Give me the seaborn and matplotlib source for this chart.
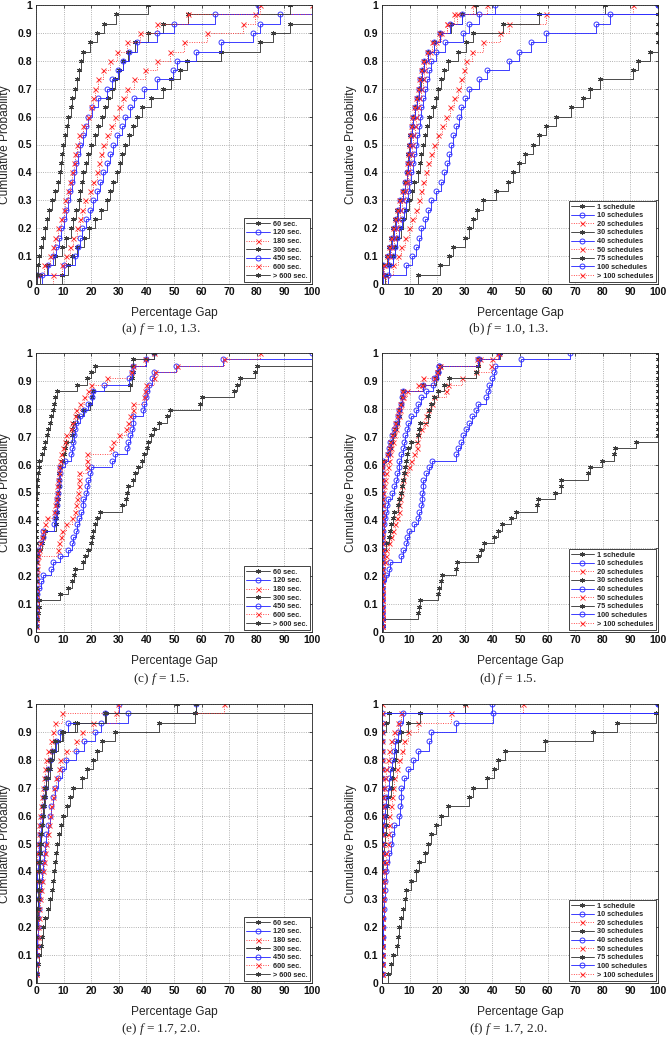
import numpy as np
import pandas as pd
import matplotlib
matplotlib.use("Agg")
import matplotlib.pyplot as plt
import seaborn as sns

# ---------------- data (percentage gaps) ----------------
LABELS_TIME = ["60 sec.", "120 sec.", "180 sec.", "300 sec.", "450 sec.", "600 sec.", "> 600 sec."]
LABELS_SCHED = ["1 schedule", "10 schedules", "20 schedules", "30 schedules", "40 schedules",
                "50 schedules", "75 schedules", "100 schedules", "> 100 schedules"]
CAPTIONS = ["(a) $f$ = 1.0, 1.3.", "(b) $f$ = 1.0, 1.3.", "(c) $f$ = 1.5.",
            "(d) $f$ = 1.5.", "(e) $f$ = 1.7, 2.0.", "(f) $f$ = 1.7, 2.0."]
X_TICKS = [0, 10, 20, 30, 40, 50, 60, 70, 80, 90, 100]
Y_TICKS = [0, 0.1, 0.2, 0.3, 0.4, 0.5, 0.6, 0.7, 0.8, 0.9, 1]
Y_TICKLABELS = ["0", "0.1", "0.2", "0.3", "0.4", "0.5", "0.6", "0.7", "0.8", "0.9", "1"]

# panel (a)
A_60 = [9.5, 11.5, 13, 15, 17.3, 19.3, 21.5, 23.5, 25.6, 26.8, 28, 29.3, 30.3, 31.3, 32.3, 33.7, 35.1,
        36.5, 38.5, 41.5, 46, 49, 52, 54.7, 67, 81, 86, 92, 110, 130]
A_120 = [0.5, 10, 14, 15.3, 16, 16.6, 18, 19.5, 20.8, 22, 23.2, 24.4, 25.6, 26.8, 28, 29.5, 31, 32.3,
         33.9, 35.5, 39, 44, 49.5, 51, 58, 67, 78.8, 81, 88.5, 105]
A_180 = [6, 9.5, 11, 12.3, 13.5, 14.7, 15.8, 16.8, 17.8, 19.5, 20.8, 22, 22.8, 23.6, 24.4, 25.8, 27.2,
         28.7, 30, 31.5, 32.9, 35.5, 39.5, 43.8, 48.5, 53.5, 62, 75, 79.5, 100]
A_300 = [1.5, 4, 7, 9.5, 11, 12.5, 13.5, 14.5, 15.4, 16, 16.6, 17.2, 18, 19, 20, 21.2, 22.5, 23.8, 25,
         26.2, 27.4, 28.8, 30.2, 31.7, 33.5, 36, 40.7, 46, 55, 92]
A_450 = [2, 4.5, 6.3, 7.3, 8.2, 9, 10, 10.8, 11.7, 12.4, 13.1, 13.8, 14.5, 15.3, 16, 17, 18, 19, 20.3,
         22.5, 25.6, 27.7, 29.7, 31.7, 33.7, 36.5, 43.8, 50, 65, 80.6]
A_600 = [0.5, 3, 5, 6, 7, 8, 9, 10, 10.5, 11.5, 12.3, 13, 13.6, 14.2, 14.7, 15.5, 17, 19, 19.8, 20.6,
         21.4, 22.6, 24.2, 26.8, 29.5, 33, 37.7, 44, 55, 81]
A_GT600 = [0.3, 0.8, 1.0, 1.8, 2.5, 3.3, 4.0, 4.8, 5.7, 7.0, 8.0, 8.7, 9.2, 9.6, 9.9, 10.5, 11.1, 11.7,
           12.5, 13.2, 14.0, 14.8, 15.6, 16.3, 17.0, 19.5, 22.0, 24.5, 29.0, 40.7]

# panel (b)
B_1 = [13, 21, 24.4, 25.6, 30, 31.7, 32.8, 34.5, 36.5, 41.4, 45.5, 47.4, 49.5, 51.8, 54.7, 57, 59.5,
       63, 68.5, 73, 75.2, 79, 91, 92.7, 97, 100, 100, 100, 100, 100]
B_10 = [2, 8.7, 10.9, 12.3, 13.4, 14.2, 15.4, 16.6, 17.8, 19.7, 21.3, 22.6, 23.5, 24.2, 25, 25.8, 26.7,
        27.8, 28.8, 30, 31.7, 35, 38, 46, 49.5, 54, 59.5, 77.5, 82.5, 100]
B_20 = [1.5, 4, 5.7, 7, 8.2, 9.7, 11, 12.3, 13.3, 14.1, 15, 16, 16.8, 17.8, 19, 20.2, 21.6, 23.2, 24.8,
        26.2, 27.4, 28.6, 29.7, 30.5, 32.5, 36.5, 42.6, 46, 59.5, 91]
B_30 = [1, 2.7, 3.9, 4.6, 5.6, 6.9, 7.7, 8.7, 9.9, 10.7, 11.7, 13, 13.7, 14.3, 14.8, 15.5, 16.4, 17.2,
        18.4, 19.4, 20.2, 21.4, 22.6, 23.8, 27.5, 30.5, 32.9, 44, 57, 80.7]
B_40 = [0.5, 2.5, 3.9, 4.8, 5.6, 6.3, 7.1, 7.9, 8.7, 9.3, 9.9, 10.5, 11.1, 11.7, 12.3, 12.8, 13.3, 13.8,
        14.3, 14.9, 15.4, 16.2, 17, 17.8, 19.5, 23, 29.3, 31.7, 35.3, 100]
B_50 = [0, 0.8, 2.5, 3.3, 4.2, 5, 5.8, 6.6, 7.4, 8.3, 9, 9.5, 10, 10.4, 10.8, 11.3, 11.8, 12.3, 12.9,
        13.5, 14.1, 14.7, 15.3, 16, 17.5, 19.5, 21.5, 23.5, 26, 33]
B_75 = [0, 0.2, 1.8, 2.6, 3.3, 4, 4.8, 5.6, 6.5, 7.6, 8.5, 9, 9.3, 9.6, 9.9, 10.3, 10.8, 11.3, 12, 12.6,
        13.3, 14, 14.6, 15.2, 16.8, 18.8, 21, 25, 29, 34]
B_100 = [0, 0.4, 2, 2.8, 3.5, 4.2, 4.9, 5.7, 6.4, 7.6, 8.5, 9.1, 9.4, 9.7, 10, 10.4, 10.9, 11.4, 12,
         12.6, 13.3, 13.9, 14.5, 15.1, 16.6, 18.8, 21, 24.8, 29, 41]
B_GT100 = [0, 0.3, 1.8, 2.6, 3.3, 4, 4.7, 5.5, 6.2, 7.4, 8.3, 8.9, 9.2, 9.5, 9.8, 10.2, 10.6, 11, 11.6,
           12.2, 12.9, 13.5, 14.1, 14.7, 16.2, 18.2, 20.5, 23.5, 27, 38]

# panel (c)
C_60 = [0, 0.5, 0.8, 1.0, 1.2, 8.7, 11.7, 13, 13.8, 14.2, 17, 17.8, 19, 19.8, 20.2, 20.5, 21.4, 22.2,
        23.2, 31, 32.6, 33, 33.5, 35, 35.9, 37, 38.3, 39.2, 40.1, 40.7, 41.6, 42.6, 44.4, 47.4, 48.6,
        59.5, 60, 71.6, 72.8, 74, 79.4, 80, 110, 130]
C_120 = [0, 0, 0, 0, 0, 0.5, 1.0, 1.7, 2.4, 5.3, 6.3, 8.7, 11.7, 13, 13.5, 14.5, 15, 15.7, 16.2, 17,
         17.2, 18.1, 18.6, 18.8, 19.6, 19.8, 27.4, 28.7, 32.9, 33.5, 34.1, 34.7, 35, 35.2, 38.7, 39.2,
         40, 40.2, 41.1, 42, 42.6, 50.8, 67.7, 100]
C_180 = [0, 0, 0, 0, 0, 0, 0, 0, 0, 0, 0.1, 0.2, 8.1, 8.5, 9, 9.5, 11, 13, 14, 14.5, 15, 15.2, 15.4,
         15.5, 15.7, 18.4, 18.5, 18.6, 27, 28, 30, 32.6, 33.5, 34, 35, 35.2, 39, 39.5, 40, 42.6, 43,
         51, 68, 81.3]
C_300 = [0, 0, 0, 0, 0, 0, 0, 0, 0, 0, 0, 0.5, 1, 2, 2.7, 3.3, 7.3, 7.4, 7.5, 7.6, 7.8, 8.1, 8.2, 8.4,
         8.5, 8.7, 9.3, 10, 10.5, 11, 13, 13.2, 13.5, 15, 17, 19.5, 20.2, 20.8, 34, 34.7, 35, 35.2,
         40, 42.6]
C_450 = [0, 0, 0, 0, 0, 0, 0, 0, 0, 0, 0, 0.3, 0.8, 1.5, 2.4, 2.7, 6.5, 7.0, 7.3, 7.5, 7.7, 8.0, 8.2,
         8.4, 8.6, 8.8, 10.5, 12.5, 13, 13.3, 13.6, 14.2, 14.6, 16, 17.4, 19, 20.2, 20.7, 24.5, 33.7,
         34.7, 35, 40, 42.6]
C_600 = [0, 0, 0, 0, 0, 0, 0, 0, 0, 0.2, 0.5, 0.8, 1.2, 1.6, 2.2, 2.7, 3.3, 4, 6.5, 7, 7.2, 7.5, 7.7,
         8, 8.2, 8.5, 8.8, 9.2, 9.8, 10.5, 11, 12.5, 13, 14, 14.5, 16, 17.5, 19, 20, 25.6, 34.5, 35,
         39.5, 42.6]
C_GT600 = [0, 0, 0, 0, 0, 0, 0, 0, 0, 0, 0, 0, 0, 0, 0, 0, 0, 0, 0, 0, 0, 0.2, 0.3, 0.5, 0.8, 1.0, 1.2,
           2.0, 2.9, 3.3, 3.9, 4.5, 5, 5.5, 6, 6.5, 7.0, 7.5, 14.8, 18.6, 20, 21.4, 35, 42.6]

# panel (d)
D_1 = [0.5, 0.5, 13, 13.3, 13.8, 20.2, 20.8, 21.4, 21.8, 26.8, 27, 34.7, 35.9, 37.1, 40.7, 42, 43.5,
       46.8, 48.4, 56.1, 56.5, 62.5, 64.7, 64.9, 74.6, 75.2, 79.8, 83.9, 84.6, 91.9, 100, 100, 100, 100,
       100, 100, 100, 100, 100, 100, 100, 100, 100, 100]
D_10 = [0, 0, 0, 0, 0, 0, 0, 0.5, 1.5, 2.4, 2.8, 6.9, 7.5, 8.7, 9.2, 9.9, 11.7, 13, 13.5, 14.1, 14.4,
        14.6, 14.8, 15, 16, 17.2, 18.1, 26.8, 27.6, 28.7, 29.3, 30.3, 31.7, 32.5, 34.1, 34.7, 37.7,
        38.3, 38.9, 39.9, 40.7, 41.1, 50.4, 68]
D_20 = [0, 0, 0, 0, 0, 0, 0, 0, 0, 0, 1.0, 1.4, 1.6, 2.5, 3.3, 3.9, 4.8, 5.5, 6, 6.3, 6.6, 6.9, 7.2,
        7.5, 8.5, 9.9, 10.5, 11.5, 12.6, 12.8, 13, 14.1, 15.4, 16, 16.6, 18, 19, 23.2, 23.8, 29, 34.1,
        39.5, 40, 42]
D_30 = [0, 0, 0, 0, 0, 0, 0, 0, 0, 0, 0, 0, 0, 1.5, 2.4, 3, 3.3, 3.9, 4.5, 5.7, 6.3, 6.9, 7.3, 7.6, 8.1,
        8.5, 8.7, 9, 9.3, 10.5, 13, 13.4, 13.8, 16.6, 16.9, 17.8, 19, 20.2, 22.6, 24.4, 34.1, 34.7,
        35.3, 42.3]
D_40 = [0, 0, 0, 0, 0, 0, 0, 0, 0, 0, 0, 0, 0, 0, 0, 0.3, 0.6, 1.0, 1.4, 1.7, 2.0, 3.6, 4.4, 5, 5.6, 6,
        6.3, 6.9, 7.5, 8.1, 8.5, 9, 9.3, 10.5, 12.3, 12.9, 14.1, 16, 18.4, 19.6, 20.2, 20.8, 35, 42.3]
D_50 = [0, 0, 0, 0, 0, 0, 0, 0, 0, 0, 0, 0, 0, 0, 0, 0, 0, 0, 0, 0, 0, 0.3, 0.6, 1, 1.5, 2, 2.4, 3,
        3.3, 3.9, 4.5, 5, 5.5, 6, 6.5, 7, 7.5, 9, 12.9, 15, 20, 21, 35.5, 42.3]
D_75 = [0, 0, 0, 0, 0, 0, 0, 0, 0, 0, 0, 0, 0, 0, 0, 0, 0, 0, 0, 0, 0, 0, 0, 0, 0, 0, 0.8, 2.2, 2.9,
        3.3, 3.9, 4.8, 5.3, 6, 6.3, 7, 7.3, 7.6, 15, 19.5, 20.4, 21, 35, 42.6]
D_100 = [0, 0, 0, 0, 0, 0, 0, 0, 0, 0, 0, 0, 0, 0, 0, 0, 0, 0, 0, 0, 0, 0, 0, 0, 0, 0, 0.5, 2, 2.7, 3,
         3.6, 4.5, 5, 5.7, 6, 6.9, 7.2, 7.5, 14.8, 19, 20.2, 20.8, 34.7, 42.3]
D_GT100 = [0, 0, 0, 0, 0, 0, 0, 0, 0, 0, 0, 0, 0, 0, 0, 0, 0, 0, 0, 0, 0, 0, 0, 0, 0, 0, 0.3, 1.8, 2.5,
           2.9, 3.5, 4.3, 4.8, 5.5, 5.9, 6.7, 7.1, 7.4, 14.6, 18.8, 20, 20.7, 34.5, 42]

# panel (e)
E_60 = [0.5, 0.9, 1.2, 1.7, 2.1, 2.6, 3.3, 4.2, 5, 5.8, 6.3, 6.6, 6.9, 7.2, 7.5, 8.3, 9.1, 9.9, 11.2,
        12.4, 13.5, 16.5, 18.5, 20.7, 22, 24, 28.5, 44.7, 57.7, 110]
E_120 = [0, 0, 0, 0.3, 0.5, 0.8, 0.9, 1.0, 1.2, 1.5, 1.8, 2.0, 2.4, 2.8, 3.2, 3.7, 4.3, 5, 5.6, 6.2,
         6.9, 7.8, 9.5, 11, 14.5, 17.5, 21.3, 23.7, 33.3, 58]
E_180 = [0, 0, 0, 0.3, 0.6, 0.8, 1.0, 1.2, 1.4, 1.8, 2.2, 2.6, 3.0, 3.4, 3.8, 4.2, 4.6, 5, 5.5, 6, 6.5,
         7.3, 8.2, 8.7, 11, 14.5, 16.5, 20.7, 29, 68]
E_300 = [0, 0, 0, 0, 0, 0, 0.3, 0.6, 0.8, 1.0, 1.1, 1.2, 1.4, 1.5, 1.7, 1.9, 2.1, 2.4, 2.8, 3.2, 3.6,
         4.2, 4.9, 5.6, 6.5, 7.8, 9.9, 14, 25.5, 58]
E_450 = [0, 0, 0, 0, 0, 0, 0, 0, 0, 0, 0.3, 0.5, 0.8, 1.0, 1.2, 1.5, 1.8, 2.0, 2.4, 2.8, 3.2, 3.8, 4.4,
         5, 5.8, 7.2, 8.7, 11.5, 25, 30]
E_600 = [0, 0, 0, 0, 0, 0, 0, 0, 0, 0, 0, 0, 0, 0.4, 0.8, 1.0, 1.2, 1.4, 1.8, 2.1, 2.4, 2.8, 3.3, 3.8,
         4.5, 5.3, 6, 7, 9.5, 29.7]
E_GT600 = [0, 0, 0, 0, 0, 0, 0.2, 0.5, 0.8, 0.9, 1.0, 1.1, 1.2, 1.3, 1.4, 1.7, 2.0, 2.4, 2.7, 3.0, 3.2,
           3.8, 4.4, 5, 5.8, 6.8, 9.3, 15, 25, 51]

# panel (f)
F_1 = [2.2, 3.2, 3.9, 5.3, 5.9, 6.3, 6.8, 7.5, 8.2, 8.7, 10.5, 12.3, 13.5, 15.5, 16.6, 17.6, 19.6,
       21.4, 24, 31.7, 32.9, 38, 40.6, 42, 44.5, 58.9, 76.4, 85, 99.4, 100]
F_10 = [0, 0, 0, 0, 0.2, 0.3, 0.5, 0.6, 0.8, 1.0, 1.2, 1.5, 1.8, 2.4, 3.3, 3.8, 4.5, 6.3, 6.6, 6.9,
        6.9, 8, 9.5, 11.1, 13, 17.2, 17.8, 26.8, 40.1, 100]
F_20 = [0, 0, 0, 0, 0, 0, 0, 0, 0.3, 0.5, 0.6, 0.9, 1.3, 1.6, 2.0, 2.2, 2.4, 2.7, 3.1, 3.5, 3.9, 4.5,
        5.3, 6.3, 7.2, 8, 9.3, 12.9, 25, 51]
F_30 = [0, 0, 0, 0, 0, 0, 0, 0, 0, 0, 0, 0, 0.2, 0.5, 0.8, 1.0, 1.3, 1.5, 1.8, 2.2, 3.3, 3.6, 4.0, 4.8,
        5.2, 5.7, 6.9, 9.3, 13.8, 30.2]
F_40 = [0, 0, 0, 0, 0, 0, 0, 0, 0, 0, 0, 0, 0, 0, 0, 0, 0.3, 0.8, 1.2, 1.5, 2.0, 2.4, 2.8, 3.6, 4.2,
        4.8, 5.7, 6.5, 7.5, 40]
F_50 = [0, 0, 0, 0, 0, 0, 0, 0, 0, 0, 0, 0, 0, 0, 0, 0, 0, 0, 0.3, 0.5, 0.8, 1.2, 1.5, 2.0, 2.7, 3.3,
        4.5, 5.7, 6.9, 30]
F_75 = [0, 0, 0, 0, 0, 0, 0, 0, 0, 0, 0, 0, 0, 0, 0, 0, 0, 0, 0, 0, 0, 0, 0, 0, 0, 0, 0, 1.5, 2.5, 30]
F_100 = [0, 0, 0, 0, 0, 0, 0, 0, 0, 0, 0, 0, 0, 0, 0, 0, 0, 0, 0, 0, 0, 0, 0, 0, 0, 0, 0, 0, 0, 100]
F_GT100 = [0, 0, 0, 0, 0, 0, 0, 0, 0, 0, 0, 0, 0, 0, 0, 0, 0, 0, 0, 0, 0, 0, 0, 0, 0, 0, 0, 0, 0, 0]

PANELS = [
    ([A_60, A_120, A_180, A_300, A_450, A_600, A_GT600], LABELS_TIME),
    ([B_1, B_10, B_20, B_30, B_40, B_50, B_75, B_100, B_GT100], LABELS_SCHED),
    ([C_60, C_120, C_180, C_300, C_450, C_600, C_GT600], LABELS_TIME),
    ([D_1, D_10, D_20, D_30, D_40, D_50, D_75, D_100, D_GT100], LABELS_SCHED),
    ([E_60, E_120, E_180, E_300, E_450, E_600, E_GT600], LABELS_TIME),
    ([F_1, F_10, F_20, F_30, F_40, F_50, F_75, F_100, F_GT100], LABELS_SCHED),
]

# ---------------- styling ----------------
sns.set_theme(style="white")
plt.rcParams['font.family'] = ['Liberation Sans', 'DejaVu Sans']
plt.rcParams['mathtext.fontset'] = 'custom'
plt.rcParams['mathtext.rm'] = 'Liberation Serif'
plt.rcParams['mathtext.it'] = 'Liberation Serif:italic'

STYLES = [
    dict(color="#3c3c3c", marker=(6, 2, 0), linestyle="-", mfc="#3c3c3c"),
    dict(color="#2f2fff", marker="o", linestyle="-", mfc="none"),
    dict(color="#ff3030", marker="x", linestyle=":", mfc="#ff3030"),
]

W, H = 666, 1037
fig = plt.figure(figsize=(W / 100, H / 100), dpi=100)

lefts = [36, 382]
tops = [5, 353, 704]
ax_w, ax_h = 276, 279
cap_y = [329, 679, 1029]
cap_x = [161, 508]

for idx, (series, labels) in enumerate(PANELS):
    r, c = divmod(idx, 2)
    l = lefts[c]
    t = tops[r]
    ax = fig.add_axes([l / W, 1 - (t + ax_h) / H, ax_w / W, ax_h / H])
    for i, (vals, lab) in enumerate(zip(series, labels)):
        st = STYLES[i % 3]
        sns.ecdfplot(x=np.asarray(vals, dtype=float), ax=ax, color=st["color"], marker=st["marker"],
                     linestyle=st["linestyle"], linewidth=0.65, markersize=3.6, markeredgewidth=0.65,
                     markerfacecolor=st["mfc"], markeredgecolor=st["color"], label=lab)
    ax.set_xlim(0, 100)
    ax.set_ylim(0, 1)
    ax.set_xticks(X_TICKS)
    ax.set_yticks(Y_TICKS)
    ax.set_yticklabels(Y_TICKLABELS)
    ax.grid(True, linestyle=":", color="#9a9a9a", linewidth=0.6)
    for sp in ax.spines.values():
        sp.set_color("#222222")
        sp.set_linewidth(0.6)
    ax.tick_params(direction="in", length=2.5, width=0.5, top=True, right=True, pad=2.5,
                   labelsize=7.5, colors="#111111")
    for tl in ax.get_xticklabels() + ax.get_yticklabels():
        tl.set_fontweight("bold")
    ax.set_xlabel("Percentage Gap", fontsize=8.6)
    ax.set_ylabel("Cumulative Probability", fontsize=8.6)
    ax.xaxis.set_label_coords(0.5, -0.083)
    ax.yaxis.set_label_coords(-0.092, 0.5)
    leg = ax.legend(loc="lower right", prop={"size": 5.3, "weight": "bold"}, frameon=True,
                    fancybox=False, edgecolor="#222222", framealpha=1, borderaxespad=0.3,
                    handlelength=3.2, handletextpad=0.4, labelspacing=0.2, borderpad=0.3,
                    numpoints=1)
    leg.get_frame().set_linewidth(0.6)
    fig.text(cap_x[c] / W, 1 - cap_y[r] / H, CAPTIONS[idx], ha="center", va="center",
             fontsize=9.5, family="Liberation Serif")

fig.savefig("out.png", dpi=100)
